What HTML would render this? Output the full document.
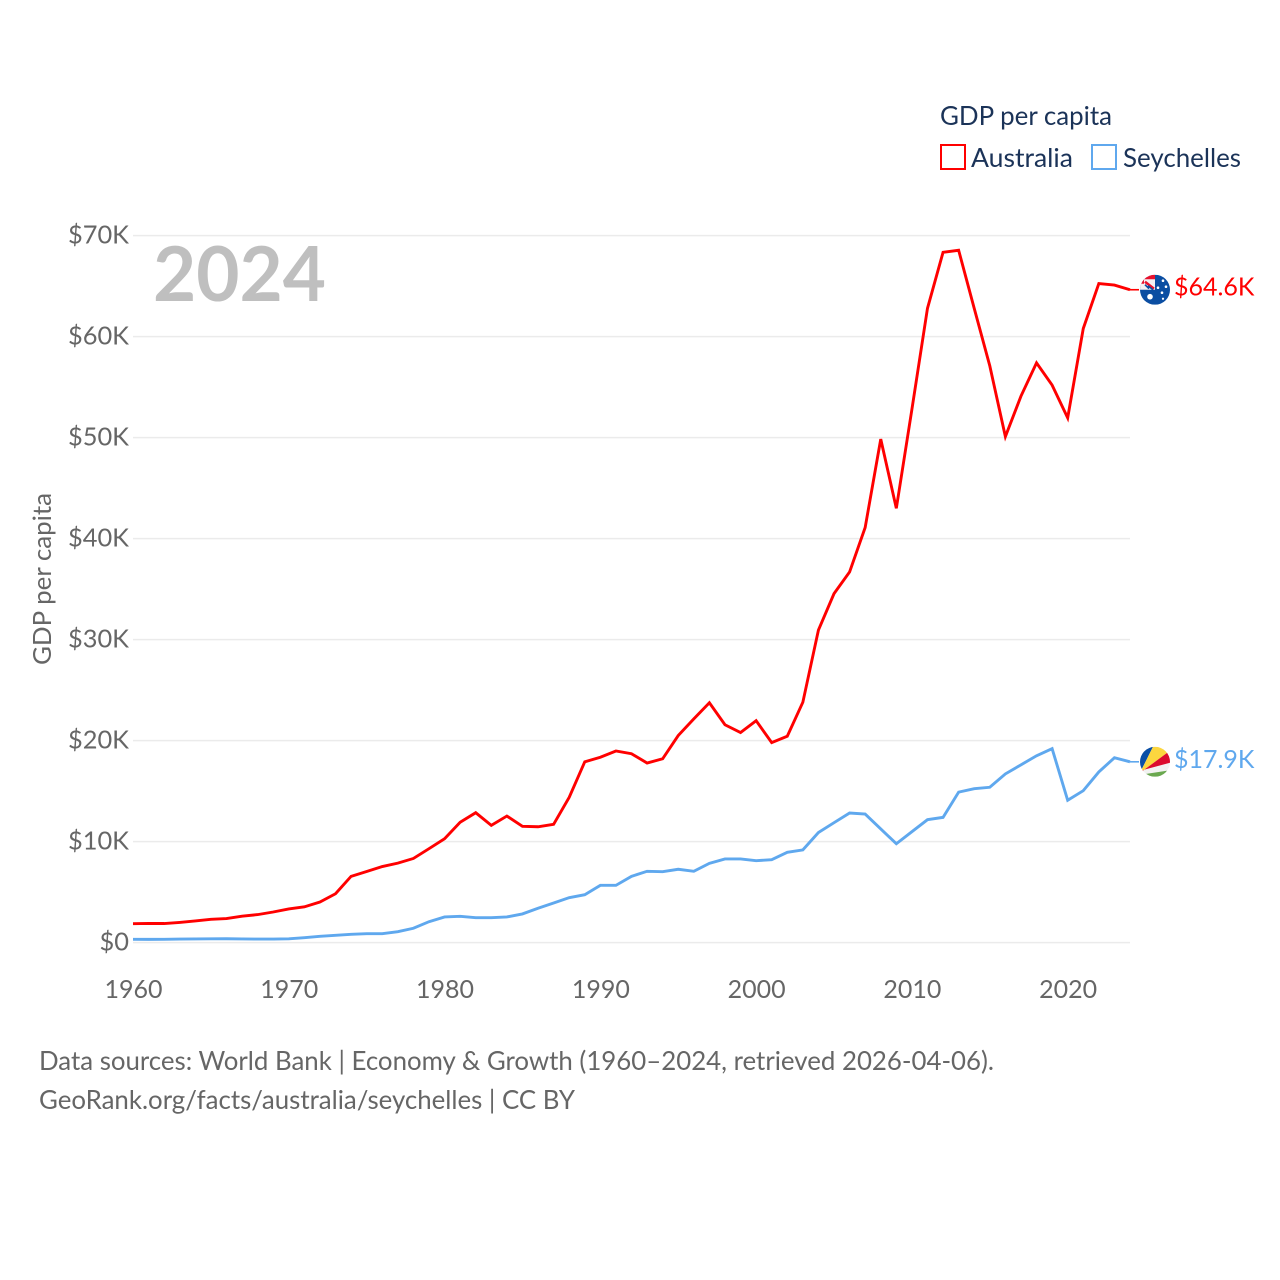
<!DOCTYPE html>
<html lang="en">
<head>
<meta charset="utf-8">
<title>GDP per capita: Australia and Seychelles</title>
<style>
html,body{margin:0;padding:0;background:#fff;}
svg{display:block;}
text{font-family:"Lato","Carlito","Liberation Sans",sans-serif;}
</style>
</head>
<body>
<svg id="chart" xmlns="http://www.w3.org/2000/svg" width="1280" height="1280" viewBox="0 0 1280 1280">
  <defs>
    <clipPath id="flag-clip-au"><circle cx="0" cy="0" r="15"/></clipPath>
    <clipPath id="flag-clip-sc"><circle cx="0" cy="0" r="15"/></clipPath>
  </defs>
  <rect width="1280" height="1280" fill="#fff"/>
  <g id="grid"></g>
  <g id="yticks"></g>
  <g id="xticks"></g>
  <text x="153" y="301" font-size="76" font-weight="700" fill="#bfbfbf" textLength="173" lengthAdjust="spacingAndGlyphs">2024</text>
  <text transform="translate(51,579) rotate(-90)" text-anchor="middle" font-size="25" fill="#666" textLength="172" lengthAdjust="spacingAndGlyphs">GDP per capita</text>
  <g id="series"></g>
  <g id="flag-au">
    <g clip-path="url(#flag-clip-au)">
      <rect x="-15" y="-15" width="30" height="30" fill="#0b4ea2"/>
      <rect x="-15" y="-15" width="15" height="15" fill="#f4f1f3"/>
      <path d="M-15-15H0V-10.5H-11V-6H-15Z" fill="#e8112d"/>
      <path d="M-10-8L-1-1" stroke="#e8112d" stroke-width="2.5"/>
      <path d="M-7-4L-2 0M-10-5L-6-1" stroke="#0b4ea2" stroke-width="1.6"/>
      <circle cx="-5" cy="7" r="2.8" fill="#fff"/>
      <circle cx="8" cy="-9" r="1.3" fill="#fff"/>
      <circle cx="3" cy="-2" r="1.3" fill="#fff"/>
      <circle cx="11" cy="-3" r="1.3" fill="#fff"/>
      <circle cx="7" cy="3" r="1.3" fill="#fff"/>
      <circle cx="8" cy="9" r="1.1" fill="#fff"/>
    </g>
  </g>
  <g id="flag-sc">
    <g clip-path="url(#flag-clip-sc)">
      <rect x="-15" y="-15" width="30" height="30" fill="#f2f2f2"/>
      <path d="M-15 11V-15H-2Z" fill="#0a4fa6"/>
      <path d="M-15 11L-2-15H15V-11Z" fill="#fcd63f"/>
      <path d="M-15 11L15-11V1L-15 9Z" fill="#dc0b2e"/>
      <path d="M-15 13L15 8.5V15H-15Z" fill="#6aa84f"/>
    </g>
  </g>
  <g id="end-labels"></g>
  <g>
    <text x="940" y="125" font-size="26" fill="#1b3358" textLength="172" lengthAdjust="spacingAndGlyphs">GDP per capita</text>
    <g>
      <rect x="941" y="145" width="24" height="24" fill="none" stroke="#ff0000" stroke-width="2"/>
      <text x="971" y="167" font-size="26" fill="#1b3358" textLength="102" lengthAdjust="spacingAndGlyphs">Australia</text>
    </g>
    <g>
      <rect x="1092" y="145" width="24" height="24" fill="none" stroke="#5fa8ee" stroke-width="2"/>
      <text x="1123" y="167" font-size="26" fill="#1b3358" textLength="118" lengthAdjust="spacingAndGlyphs">Seychelles</text>
    </g>
  </g>
  <text x="39" y="1070" font-size="26" fill="#666" textLength="955" lengthAdjust="spacingAndGlyphs">Data sources: World Bank | Economy &amp; Growth (1960–2024, retrieved 2026-04-06).</text>
  <text x="39" y="1109" font-size="26" fill="#666" textLength="536" lengthAdjust="spacingAndGlyphs">GeoRank.org/facts/australia/seychelles | CC BY</text>
</svg>
<script>
const startYear = 1960;
const endYear = 2024;
const xTickYears = [1960, 1970, 1980, 1990, 2000, 2010, 2020];
const yTickValues = [0, 10, 20, 30, 40, 50, 60, 70];
const yTickLabels = ["$0", "$10K", "$20K", "$30K", "$40K", "$50K", "$60K", "$70K"];
const australia = [1.87,1.90,1.89,2.00,2.14,2.31,2.38,2.62,2.77,3.03,3.33,3.54,4.02,4.84,6.56,7.04,7.53,7.87,8.33,9.30,10.28,
  11.91,12.86,11.61,12.53,11.51,11.47,11.71,14.38,17.90,18.35,18.97,18.70,17.78,18.20,20.50,22.15,23.75,21.57,20.80,21.97,
  19.80,20.43,23.80,30.95,34.55,36.70,41.10,49.85,43.00,52.80,62.80,68.35,68.55,62.80,57.10,50.10,54.10,57.40,55.20,51.95,
  60.80,65.25,65.10,64.64];
const seychelles = [0.33,0.32,0.33,0.35,0.36,0.37,0.38,0.36,0.35,0.35,0.37,0.49,0.62,0.72,0.82,0.88,0.88,1.08,1.42,2.07,2.54,
  2.60,2.47,2.47,2.54,2.84,3.40,3.92,4.45,4.74,5.67,5.67,6.56,7.06,7.02,7.26,7.06,7.85,8.28,8.28,8.11,
  8.21,8.94,9.18,10.90,11.87,12.83,12.73,11.25,9.79,10.98,12.17,12.40,14.90,15.24,15.38,16.70,17.60,18.50,19.20,14.09,
  15.04,16.90,18.30,17.90];

const NS = 'http://www.w3.org/2000/svg';
function xScale(year) { return 133 + (year - startYear) * (1130 - 133) / (endYear - startYear); }
function yScale(value) { return 942.6 - value * 10.1; }
function make(tag, attrs, parent, content) {
  const el = document.createElementNS(NS, tag);
  for (const k in attrs) el.setAttribute(k, attrs[k]);
  if (content !== undefined) el.textContent = content;
  parent.appendChild(el);
  return el;
}
const gridG = document.getElementById('grid');
const yG = document.getElementById('yticks');
const xG = document.getElementById('xticks');
const seriesG = document.getElementById('series');
const labelG = document.getElementById('end-labels');

yTickValues.forEach(function (v, i) {
  const line = make('line', {x1: 133, x2: 1130, y1: yScale(v), y2: yScale(v), stroke: '#ebebeb', 'stroke-width': 1.5}, gridG);
  
  
  const label = make('text', {x: 129, y: yScale(v) + 8, 'text-anchor': 'end', 'font-size': 25.4, fill: '#666'}, yG, yTickLabels[i]);
  
  
});
xTickYears.forEach(function (year) {
  const label = make('text', {x: xScale(year) + 0.5, y: 998, 'text-anchor': 'middle', 'font-size': 25, fill: '#666'}, xG, String(year));
  
  
});
function linePath(values) {
  return values.map(function (v, i) {
    return (i ? 'L' : 'M') + xScale(startYear + i).toFixed(2) + ' ' + yScale(v).toFixed(2);
  }).join('');
}
function endLabel(value) { return '$' + value.toFixed(1) + 'K'; }

const seyLast = seychelles[seychelles.length - 1];
const ausLast = australia[australia.length - 1];

const seyLine = make('path', {d: linePath(seychelles), fill: 'none', stroke: '#5fa8ee', 'stroke-width': 2.9, 'stroke-linejoin': 'miter'}, seriesG);


const seyTail = make('line', {x1: xScale(endYear), x2: 1139, y1: yScale(seyLast), y2: yScale(seyLast), stroke: '#5fa8ee', 'stroke-width': 1.6}, seriesG);


const ausLine = make('path', {d: linePath(australia), fill: 'none', stroke: '#ff0000', 'stroke-width': 2.9, 'stroke-linejoin': 'miter'}, seriesG);


const ausTail = make('line', {x1: xScale(endYear), x2: 1139, y1: yScale(ausLast), y2: yScale(ausLast), stroke: '#ff0000', 'stroke-width': 1.6}, seriesG);



document.getElementById('flag-au').setAttribute('transform', 'translate(1155,' + yScale(ausLast) + ')');
document.getElementById('flag-sc').setAttribute('transform', 'translate(1155,' + yScale(seyLast) + ')');

const ausLabel = make('text', {x: 1174, y: yScale(ausLast) + 6, 'font-size': 25, fill: '#ff0000'}, labelG, endLabel(ausLast));


const seyLabel = make('text', {x: 1174, y: yScale(seyLast) + 6, 'font-size': 25, fill: '#5fa8ee'}, labelG, endLabel(seyLast));


</script>
</body>
</html>
